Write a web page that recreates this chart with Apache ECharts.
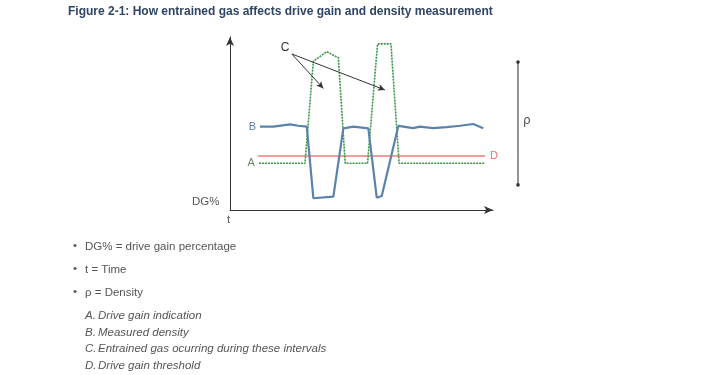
<!DOCTYPE html>
<html><head><meta charset="utf-8">
<script src="https://cdn.jsdelivr.net/npm/echarts@6/dist/echarts.min.js"></script>
<style>html,body{margin:0;padding:0;background:#fff}#c{width:720px;height:375px}</style>
</head><body><div id="c"></div>
<script>
// Time axis in arbitrary units (0-100), signal in arbitrary units (0-100)
const driveGainA = [[11,27],[28.5,27],[31.7,86],[36.8,91.5],[41.2,88],[43.8,27],[52.3,27],[56.1,96],[61.2,96],[64.3,27],[97,27]];
const densityB = [[11.4,48.2],[16.5,48.2],[22.8,49.5],[26,48.7],[29.2,48.2],[31.7,6.8],[39.3,7.7],[43.1,47.2],[46.9,48.2],[52.6,47.2],[55.8,7.1],[57.7,8.1],[64,48.6],[67.2,47.9],[69.6,47.3],[72.2,48.2],[77.2,47.3],[82.4,47.9],[87.5,48.7],[92.5,49.7],[96.3,47.3]];
const thresholdD = [[10.6,31.2],[97,31.2]];
const gasLabelC = [20.9,93.6];
const gasArrowStart = [23.5,90.2];
const gasArrowEnds = [[35.5,70.3],[58.9,69.4]];
const densityRange = [[109.5,85.5],[109.5,14.5]];
const seriesLetters = ['A','B','C','D'];
const bulletNotes = ['DG% = drive gain percentage','t = Time','\u03c1 = Density'];
const letterNotes = ['Drive gain indication','Measured density','Entrained gas ocurring during these intervals','Drive gain threshold'];
const titleText = 'Figure 2-1: How entrained gas affects drive gain and density measurement';

const chart = echarts.init(document.getElementById('c'), null, {renderer:'canvas'});
const txt = '#555';
const bodyFont = '11.5px "Liberation Sans", sans-serif';
const italFont = 'italic 11.5px "Liberation Sans", sans-serif';
const graphics = [
  {type:'text', left:68, top:6, style:{text:titleText, font:'bold 12px "Liberation Sans Narrow", "Liberation Sans", sans-serif', fill:'#2f4566'}},
  {type:'text', left:192, top:196, style:{text:'DG%', font:'11.5px "Liberation Sans", sans-serif', fill:txt}},
  {type:'text', left:227, top:214, style:{text:'t', font:'11.5px "Liberation Sans", sans-serif', fill:txt}},
  {type:'text', left:523, top:115, style:{text:'\u03c1', font:'12px "DejaVu Sans", sans-serif', fill:txt}}
];
const bulletY = [241, 264, 287];
bulletNotes.forEach((s,i)=>{
  graphics.push({type:'text', left:73, top:bulletY[i]-1, style:{text:'\u2022', font:bodyFont, fill:txt}});
  graphics.push({type:'text', left:85, top:bulletY[i], style:{text:s, font:bodyFont, fill:txt}});
});
const letterY = [310, 327, 343, 360];
letterNotes.forEach((s,i)=>{
  graphics.push({type:'text', left:85, top:letterY[i], style:{text:seriesLetters[i]+'.', font:italFont, fill:txt}});
  graphics.push({type:'text', left:98, top:letterY[i], style:{text:s, font:italFont, fill:txt}});
});

const anchorLabel = (pt, letter, color) => ({
  coord: pt, symbol:'circle', symbolSize:0,
  label:{show:true, formatter:letter, position:'left', distance:4, color:color, fontSize:11, fontFamily:'Liberation Sans'}
});

chart.setOption({
  animation:false,
  graphic: graphics,
  grid:{left:230, right:227, top:37, bottom:165},
  xAxis:{type:'value', min:0, max:100, axisLine:{show:true, lineStyle:{color:'#333', width:1}, symbol:['none','arrow'], symbolSize:[6,9]}, axisTick:{show:false}, axisLabel:{show:false}, splitLine:{show:false}},
  yAxis:{type:'value', min:0, max:100, axisLine:{show:true, lineStyle:{color:'#333', width:1}, symbol:['none','arrow'], symbolSize:[6,9]}, axisTick:{show:false}, axisLabel:{show:false}, splitLine:{show:false}},
  series:[
    {name:'D', type:'line', data:thresholdD, showSymbol:false, lineStyle:{color:'#ef7b7b', width:1.5}, z:2,
      endLabel:{show:true, formatter:'D', color:'#ef6f6f', distance:5, fontSize:11, fontFamily:'Liberation Sans'}},
    {name:'A', type:'line', data:driveGainA, showSymbol:false, lineStyle:{color:'#3a9444', width:1.6, type:[2,1]}, z:3,
      markPoint:{silent:true, data:[anchorLabel(driveGainA[0], 'A', '#6a8a6a')]}},
    {name:'B', type:'line', data:densityB, showSymbol:false, lineStyle:{color:'#5b82ac', width:2.2}, z:4,
      markPoint:{silent:true, data:[anchorLabel(densityB[0], 'B', '#5f7fa5')]}},
    {name:'annot', type:'line', data:[], clip:false, silent:true,
      markPoint:{data:[{coord:gasLabelC, symbol:'circle', symbolSize:0, label:{show:true, formatter:seriesLetters[2], position:'inside', color:'#333', fontSize:12, fontFamily:'Liberation Sans'}}]},
      markLine:{symbol:['none','arrow'], symbolSize:[5,7], label:{show:false},
        lineStyle:{color:'#333', width:1, type:'solid'},
        data: gasArrowEnds.map(e=>[{coord:gasArrowStart},{coord:e}])
      }
    }
  ]
});

// Density range bar (outside the plotting area), positioned through the axes' scales
const p0 = chart.convertToPixel({gridIndex:0}, densityRange[0]);
const p1 = chart.convertToPixel({gridIndex:0}, densityRange[1]);
chart.setOption({graphic: graphics.concat([
  {type:'line', shape:{x1:p0[0], y1:p0[1], x2:p1[0], y2:p1[1]}, style:{stroke:'#8a8a8a', lineWidth:1.8}},
  {type:'circle', shape:{cx:p0[0], cy:p0[1], r:1.8}, style:{fill:'#333'}},
  {type:'circle', shape:{cx:p1[0], cy:p1[1], r:1.8}, style:{fill:'#333'}}
])});
</script></body></html>
